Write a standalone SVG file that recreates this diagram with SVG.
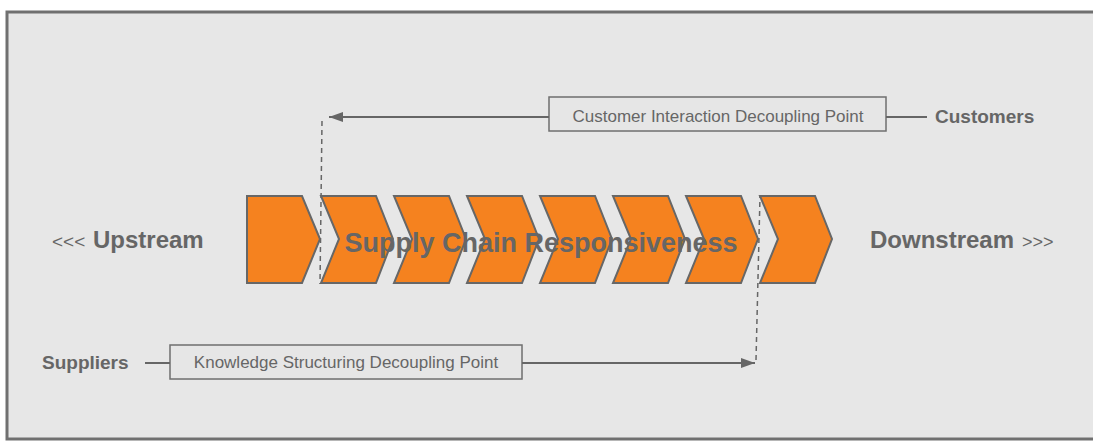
<svg xmlns="http://www.w3.org/2000/svg" width="1093" height="441" viewBox="0 0 1093 441">
  <defs>
    <style>
      .frame { fill: #e7e7e7; stroke: #707070; stroke-width: 3; }
      .chev { fill: #f5821f; stroke: #676767; stroke-width: 2; stroke-linejoin: miter; }
      .box { fill: #e6e6e6; stroke: #6f6f6f; stroke-width: 1.5; }
      .boxtext { font-family: "Liberation Sans", Arial, sans-serif; font-size: 17px; fill: #666; text-anchor: middle; }
      .bold { font-family: "Liberation Sans", Arial, sans-serif; font-weight: bold; fill: #666; }
      .thin { font-family: "Liberation Sans", Arial, sans-serif; fill: #666; }
      .line { fill: none; stroke: #666; stroke-width: 2; }
      .dash { fill: none; stroke: #666; stroke-width: 1.5; stroke-dasharray: 5 4; }
    </style>
    <marker id="arrow" viewBox="0 0 14 10" refX="14" refY="5" markerWidth="14" markerHeight="10" markerUnits="userSpaceOnUse" orient="auto">
      <path d="M0,0 L14,5 L0,10 Z" fill="#666"/>
    </marker>
    <polygon id="chevron" points="0,0 55,0 72,43 55,87 0,87 18,43"/>
  </defs>

  <rect width="1093" height="441" fill="#ffffff"/>
  <rect class="frame" x="7" y="12" width="1100" height="427"/>

  <!-- value chain -->
  <g id="chain">
    <polygon class="chev" points="247,196 302,196 320,239 302,283 247,283"/>
    <use href="#chevron" class="chev" x="321" y="196"/>
    <use href="#chevron" class="chev" x="394" y="196"/>
    <use href="#chevron" class="chev" x="467" y="196"/>
    <use href="#chevron" class="chev" x="540" y="196"/>
    <use href="#chevron" class="chev" x="613" y="196"/>
    <use href="#chevron" class="chev" x="686" y="196"/>
    <use href="#chevron" class="chev" x="760" y="196"/>
  </g>

  <g id="chain-label">
    <text class="bold" x="541" y="252" font-size="27" text-anchor="middle">Supply Chain Responsiveness</text>
  </g>

  <g id="upstream">
    <text class="thin" x="52" y="248" font-size="19">&lt;&lt;&lt;</text>
    <text class="bold" x="93" y="248" font-size="24">Upstream</text>
  </g>

  <g id="downstream">
    <text class="bold" x="870" y="248" font-size="24">Downstream</text>
    <text class="thin" x="1022" y="248" font-size="18">&gt;&gt;&gt;</text>
  </g>

  <g id="customers">
    <text class="bold" x="935" y="123" font-size="19">Customers</text>
  </g>

  <g id="suppliers">
    <text class="bold" x="42" y="369" font-size="19">Suppliers</text>
  </g>

  <g id="cidp">
    <rect class="box" x="549" y="97" width="337" height="34"/>
    <text class="boxtext" x="718" y="122">Customer Interaction Decoupling Point</text>
  </g>

  <g id="ksdp">
    <rect class="box" x="170" y="345" width="352" height="34"/>
    <text class="boxtext" x="346" y="368">Knowledge Structuring Decoupling Point</text>
  </g>

  <!-- connectors -->
  <g id="connectors">
    <line class="line" x1="886" y1="117" x2="927" y2="117"/>
    <line class="line" x1="549" y1="117" x2="329" y2="117" marker-end="url(#arrow)"/>
    <line class="dash" x1="322" y1="121" x2="320" y2="284"/>
    <line class="line" x1="145" y1="363" x2="170" y2="363"/>
    <line class="line" x1="522" y1="363" x2="755" y2="363" marker-end="url(#arrow)"/>
    <line class="dash" x1="756" y1="360" x2="760" y2="196"/>
  </g>
</svg>
